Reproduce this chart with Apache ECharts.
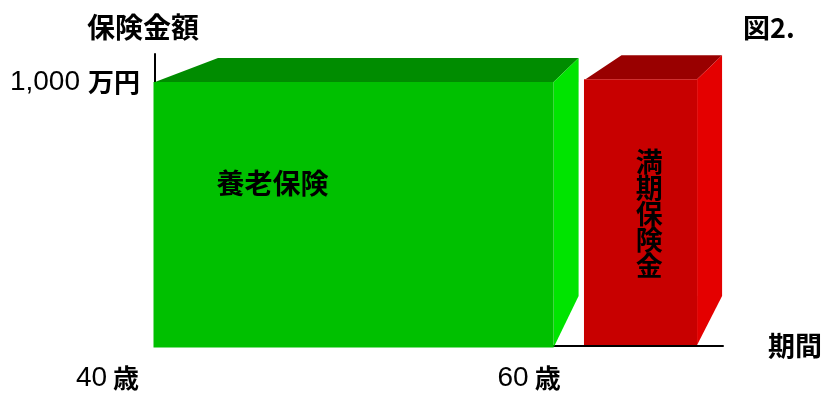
<!DOCTYPE html>
<html>
<head>
<meta charset="utf-8">
<script src="https://cdn.jsdelivr.net/npm/echarts@6/dist/echarts.min.js"></script>
<style>html,body{margin:0;padding:0;background:#fff}#c{width:828px;height:397px}</style>
</head>
<body>
<div id="c"></div>
<script>
// ---- data ----
const blockNames   = ['養老保険', '満期保険金'];
const blockStart   = [40, 61.6];     // age where block starts
const blockEnd     = [60, 67.2];     // age where block ends
const blockAmount  = [1000, 1010];   // 保険金額 (万円)
const labelAtAge   = [45.9, 64.8];   // label centre (age)
const labelAtValue = [617, 500];     // label centre (万円)
const ageTicks     = [40, 60];
const ageTickText  = ['40', '60'];
const amountTicks  = [1000];
const amountTickText = ['1,000'];

// ---- styles ----
const CJK = '"Noto Sans CJK JP", "Noto Sans", sans-serif';
const NUM = '"Liberation Sans", Arial, sans-serif';
const palette = [
  {front: '#00c000', top: '#008c00', side: '#00e400'},
  {front: '#c80000', top: '#990000', side: '#e40000'}
];
const depthX = 25, depthY = 24, sideBottomRise = 50;
const topSkew = [63, 36];
const bottomCover = [1.5, -1];
const vertical = [false, true];

const data = blockNames.map((n, i) => [blockStart[i], blockEnd[i], blockAmount[i], labelAtAge[i], labelAtValue[i], i]);

function renderItem(params, api) {
  const i = api.value(5);
  const p0 = api.coord([api.value(0), 0]);
  const p1 = api.coord([api.value(1), api.value(2)]);
  const x0 = p0[0], yb = p0[1], x1 = p1[0], yt = p1[1];
  const lp = api.coord([api.value(3), api.value(4)]);
  const c = palette[i];
  const name = blockNames[i];
  const txt = vertical[i] ? name.split('').join('\n') : name;
  return {
    type: 'group',
    children: [
      {type: 'polygon', shape: {points: [[x0, yt], [x0 + topSkew[i], yt - depthY], [x1 + depthX, yt - depthY], [x1, yt]]}, style: {fill: c.top}},
      {type: 'polygon', shape: {points: [[x1, yt], [x1 + depthX, yt - depthY], [x1 + depthX, yb - sideBottomRise], [x1, yb + bottomCover[i]]]}, style: {fill: c.side}},
      {type: 'rect', shape: {x: x0 - 1.5, y: yt, width: x1 - x0 + 1.5, height: yb - yt + bottomCover[i]}, style: {fill: c.front}},
      {type: 'text', x: lp[0], y: lp[1], style: {text: txt, fill: '#000', font: 'bold ' + (vertical[i] ? 27 : 28) + 'px ' + CJK, align: 'center', verticalAlign: 'middle', lineHeight: 26}}
    ]
  };
}

const chart = echarts.init(document.getElementById('c'), null, {renderer: 'canvas'});
chart.setOption({
  animation: false,
  backgroundColor: '#fff',
  title: [
    {text: '保険金額', left: 82, top: 8, textStyle: {fontFamily: CJK, fontSize: 28, fontWeight: 'bold', color: '#000'}},
    {text: '図2.', left: 738, top: 9, textStyle: {fontFamily: CJK, fontSize: 27, fontWeight: 'bold', color: '#000'}}
  ],
  grid: {left: 155, right: 105, top: 54, bottom: 51, containLabel: false},
  xAxis: {
    type: 'value', min: 40, max: 68.5,
    name: '期間', nameLocation: 'end', nameGap: 45,
    nameTextStyle: {fontFamily: CJK, fontSize: 27, fontWeight: 'bold', color: '#000', verticalAlign: 'middle', padding: [2, 0, 0, 0]},
    axisLine: {show: true, lineStyle: {color: '#000', width: 2}},
    axisTick: {show: false},
    splitLine: {show: false},
    axisLabel: {
      customValues: ageTicks,
      margin: 18,
      formatter: (v) => {
        const k = ageTicks.indexOf(v);
        return '{n|' + ageTickText[k] + '}{' + (k === 0 ? 'a' : 'b') + '|歳}';
      },
      rich: {
        n: {fontFamily: NUM, fontSize: 28, color: '#000'},
        a: {fontFamily: CJK, fontSize: 26, fontWeight: 'bold', color: '#000', padding: [0, 95, 0, 6]},
        b: {fontFamily: CJK, fontSize: 26, fontWeight: 'bold', color: '#000', padding: [0, 49, 0, 6]}
      }
    }
  },
  yAxis: {
    type: 'value', min: 0, max: 1106,
    axisLine: {show: true, lineStyle: {color: '#000', width: 2}},
    axisTick: {show: false},
    splitLine: {show: false},
    axisLabel: {
      customValues: amountTicks,
      margin: 15,
      formatter: (v) => '{n|' + amountTickText[amountTicks.indexOf(v)] + '}{c|万円}',
      rich: {
        n: {fontFamily: NUM, fontSize: 28, color: '#000'},
        c: {fontFamily: CJK, fontSize: 26, fontWeight: 'bold', color: '#000', padding: [0, 0, 0, 8]}
      }
    }
  },
  series: [{
    type: 'custom',
    renderItem: renderItem,
    data: data,
    encode: {x: [0, 1], y: 2},
    clip: false,
    z: 3
  }]
});
</script>
</body>
</html>
